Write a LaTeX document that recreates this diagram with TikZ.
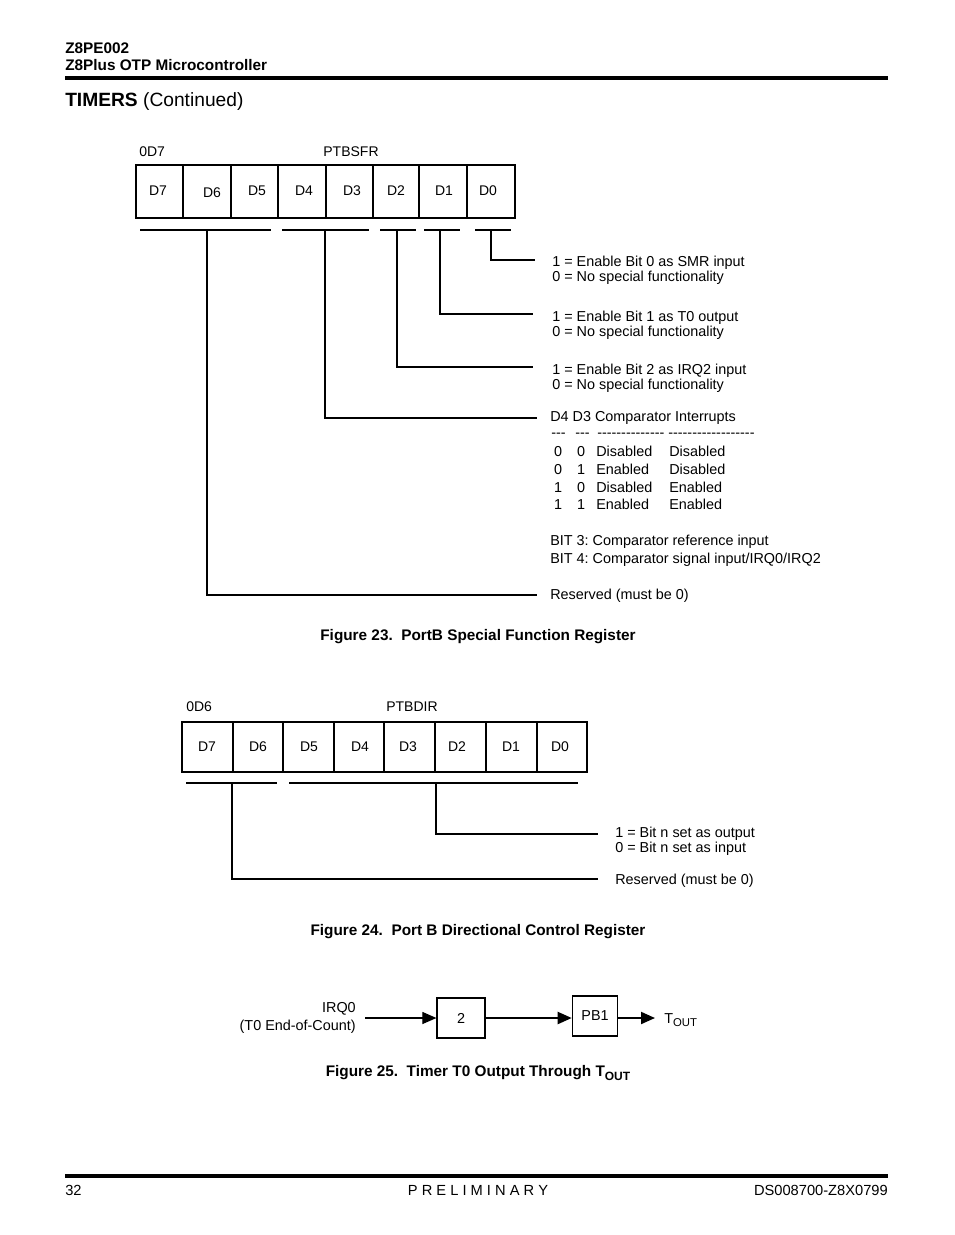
\documentclass[tikz,border=0pt]{standalone}
\usepackage{fontspec}
\setmainfont{Liberation Sans}
\usetikzlibrary{arrows.meta,positioning,calc}

\tikzset{
  body/.style={inner sep=0.75pt, font=\fontsize{10.8}{11.3}\selectfont},
  regtxt/.style={inner sep=0.75pt, font=\fontsize{10.5}{12}\selectfont},
  caption/.style={inner sep=0.75pt, font=\bfseries\fontsize{11.5}{13}\selectfont},
  regbox/.style={line width=2.2pt},
  celldiv/.style={line width=1pt},
  nibdiv/.style={line width=1.6pt},
  bracket/.style={line width=0.8pt},
  blk/.style={draw, line width=0.9pt, minimum width=36pt, minimum height=30pt,
    inner sep=0pt, font=\fontsize{10.8}{12}\selectfont},
  sig/.style={-{Triangle[length=10.5pt,width=9pt]}},
}
\newcommand{\hyphens}[1]{\foreach \k in {1,...,#1}{\mbox{-}}}
\frenchspacing

\begin{document}
\begin{tikzpicture}[x=0.75pt,y=0.75pt,yscale=-1,xscale=1]
        \useasboundingbox (0,0) rectangle (954,1235);
        % Page header
        \node [anchor=west][inner sep=0pt][font=\bfseries\fontsize{11.5}{13}\selectfont] (partno) at (65,48) {Z8PE002};
        \node [anchor=west][inner sep=0pt][font=\bfseries\fontsize{11.5}{13}\selectfont] (partname) at (65,65) {Z8Plus OTP Microcontroller};
        \draw [line width=2.3pt] (65,78) -- (888,78);
        \node [anchor=west][inner sep=0pt][font=\fontsize{14.4}{16}\selectfont] (section) at (65,102) {\textbf{TIMERS} (Continued)};

        %Figure 23: PTBSFR register
        \node [regtxt, anchor=west] (sfraddr) at (138,152) {0D7};
        \node [regtxt] (sfrname) at (351,152) {PTBSFR};
        \draw [regbox] (136,165) rectangle (515,218);
        \foreach \x in {183,231,326,373,419} \draw [celldiv] (\x,165) -- (\x,218);
        \foreach \x in {278,467} \draw [nibdiv] (\x,165) -- (\x,218);
        \foreach \x/\y/\b in {158/191/7, 212/193/6, 257/191/5, 304/191/4, 352/191/3, 396/191/2, 444/191/1, 488/191/0}
            \node [regtxt] (sfr\b) at (\x,\y) {D\b};
        %Field brackets
        \draw [bracket] (140,230) -- (271,230) (282,230) -- (369,230) (380,230) -- (416,230)
            (424,230) -- (460,230) (475,230) -- (511,230);
        \coordinate (sfrf0) at (491,230);
        \coordinate (sfrf1) at (440,230);
        \coordinate (sfrf2) at (397,230);
        \coordinate (sfrf43) at (325,230);
        \coordinate (sfrf765) at (207,230);
        \draw [bracket] (sfrf0) |- (535,260);
        \draw [bracket] (sfrf1) |- (533,314);
        \draw [bracket] (sfrf2) |- (533,367);
        \draw [bracket] (sfrf43) |- (537,418);
        \draw [bracket] (sfrf765) |- (537,595);
        % Text Node
        \node [body, anchor=west, align=left] (sfrbit0) at (551,270) {1 = Enable Bit 0 as SMR input\\0 = No special functionality};
        \node [body, anchor=west, align=left] (sfrbit1) at (551,325) {1 = Enable Bit 1 as T0 output\\0 = No special functionality};
        \node [body, anchor=west, align=left] (sfrbit2) at (551,378) {1 = Enable Bit 2 as IRQ2 input\\0 = No special functionality};
        \node [body, anchor=west] (cmphead) at (549,418) {D4 D3 Comparator Interrupts};
        \foreach \x/\n in {551/3, 575/3, 597/14, 668/18}
            \node [body, anchor=west, inner sep=0pt] at (\x,435) {\hyphens{\n}};
        \foreach \a/\b/\c/\d [count=\i] in {0/0/Disabled/Disabled, 0/1/Enabled/Disabled, 1/0/Disabled/Enabled, 1/1/Enabled/Enabled}{
            \node [body, anchor=base] (cmpa\i) at (558,439+17.7*\i) {\a};
            \node [body, anchor=base] (cmpb\i) at (581,439+17.7*\i) {\b};
            \node [body, anchor=base west, inner sep=0pt] (cmpc\i) at (596,439+17.7*\i) {\c};
            \node [body, anchor=base west, inner sep=0pt] (cmpd\i) at (669,439+17.7*\i) {\d};
        }
        \node [body, anchor=west] (bit3) at (549,542) {BIT 3: Comparator reference input};
        \node [body, anchor=west] (bit4) at (549,560) {BIT 4: Comparator signal input/IRQ0/IRQ2};
        \node [body, anchor=west] (sfrres) at (549,596) {Reserved (must be 0)};
        \node [caption] (cap23) at (478,637) {Figure 23.\ \ PortB Special Function Register};

        %Figure 24: PTBDIR register
        \node [regtxt, anchor=west] (diraddr) at (185,707) {0D6};
        \node [regtxt] (dirname) at (412,707) {PTBDIR};
        \draw [regbox] (182,722) rectangle (587,772);
        \foreach \x in {233,334,384,435,537} \draw [celldiv] (\x,722) -- (\x,772);
        \foreach \x in {283,486} \draw [nibdiv] (\x,722) -- (\x,772);
        \foreach \x/\b in {207/7, 258/6, 309/5, 360/4, 408/3, 457/2, 511/1, 560/0}
            \node [regtxt] (dir\b) at (\x,747) {D\b};
        \draw [bracket] (186,783) -- (277,783) (289,783) -- (578,783);
        \coordinate (dirf50) at (436,783);
        \coordinate (dirf76) at (232,783);
        \draw [bracket] (dirf50) |- (598,834);
        \draw [bracket] (dirf76) |- (598,879);
        \node [body, anchor=west, align=left] (dirbits) at (614,841) {1 = Bit n set as output\\0 = Bit n set as input};
        \node [body, anchor=west] (dirres) at (614,881) {Reserved (must be 0)};
        \node [caption] (cap24) at (478,932) {Figure 24.\ \ Port B Directional Control Register};

        %Figure 25: T0 output path
        \node [blk] (div2) at (461,1018) {2};
        \node [blk, minimum width=34pt] (pb1) at (595,1016) {PB1};
        \node [body, anchor=east, align=right, inner sep=6.75pt, font=\fontsize{10.8}{13.5}\selectfont] (irq) at (365,1017.5) {IRQ0\\(T0 End-of-Count)};
        \node [body, anchor=west, inner sep=6.75pt] (tout) at (655,1020) {T\raisebox{-0.45ex}{\fontsize{8.5}{9}\selectfont OUT}};
        \draw [sig, line width=0.8pt] (irq.east |- div2.west) -- (div2.west);
        \draw [sig, line width=1.5pt] (div2.east) -- (div2.east -| pb1.west);
        \draw [sig, line width=1.5pt] (pb1.east |- div2) -- (div2 -| tout.west);
        \node [caption] (cap25) at (478,1073) {Figure 25.\ \ Timer T0 Output Through T\raisebox{-0.45ex}{\fontsize{9}{10}\selectfont OUT}};

        % Page footer
        \draw [line width=2.3pt] (65,1176) -- (888,1176);
        \node [anchor=west][inner sep=0pt][font=\fontsize{11}{13}\selectfont] (pageno) at (65,1190) {32};
        \node [inner sep=0pt][font=\fontsize{11}{13}\selectfont] (prelim) at (478,1190) {P R E L I M I N A R Y};
        \node [anchor=east][inner sep=0pt][font=\fontsize{11}{13}\selectfont] (docno) at (888,1190) {DS008700-Z8X0799};
\end{tikzpicture}
\end{document}
